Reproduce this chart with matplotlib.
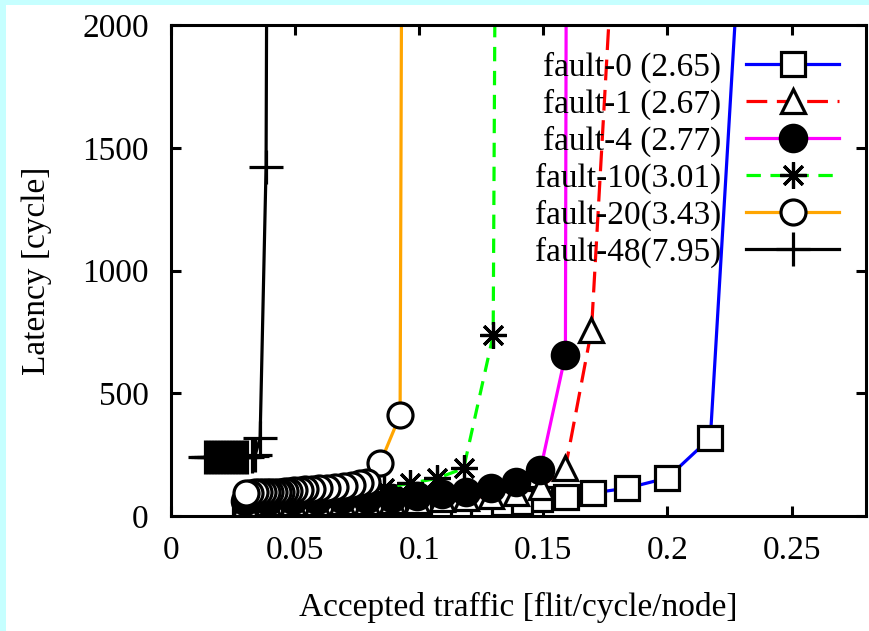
import matplotlib
matplotlib.use("Agg")
import matplotlib.pyplot as plt
from matplotlib.patches import Rectangle

# ---- data ----
labels = ["fault-0 (2.65)", "fault-1 (2.67)", "fault-4 (2.77)",
          "fault-10(3.01)", "fault-20(3.43)", "fault-48(7.95)"]

f0_x = [0.030, 0.040, 0.050, 0.060, 0.070, 0.080, 0.090, 0.100, 0.108, 0.116,
        0.1246, 0.1327, 0.1407, 0.1488, 0.1593, 0.1702, 0.1839, 0.2000, 0.2173, 0.2395]
f0_y = [34, 35, 35, 36, 37, 38, 39, 40, 42, 43,
        45, 53, 57, 69, 77, 94, 114, 155, 318, 4100]

f1_x = [0.030, 0.039, 0.049, 0.059, 0.069, 0.079, 0.089, 0.099, 0.109, 0.119,
        0.129, 0.139, 0.149, 0.1589, 0.1694, 0.186]
f1_y = [50, 51, 52, 53, 55, 57, 60, 63, 68, 74,
        82, 95, 120, 195, 757, 3730]

f4_x = [0.030, 0.039, 0.049, 0.059, 0.069, 0.079, 0.089, 0.099, 0.109, 0.119,
        0.129, 0.139, 0.1488, 0.1589, 0.1596]
f4_y = [61, 62, 64, 66, 68, 71, 75, 80, 88, 98,
        115, 140, 187, 656, 4000]

f10_x = [0.032, 0.043, 0.054, 0.064, 0.075, 0.0857, 0.0964, 0.1071, 0.1179, 0.1298, 0.1315]
f10_y = [78, 80, 84, 90, 100, 115, 133, 153, 194, 737, 4000]

f20_x = [0.0302, 0.0320, 0.0340, 0.0355, 0.0370, 0.0385, 0.0400, 0.0415, 0.0430,
         0.0445, 0.0460, 0.0475, 0.0496, 0.0520, 0.0540, 0.0569, 0.0597, 0.0629,
         0.0661, 0.0698, 0.0730, 0.0762, 0.0790, 0.0843, 0.0923, 0.0935]
f20_y = [95, 95, 96, 96, 97, 97, 98, 98, 99,
         99, 100, 101, 104, 106, 108, 110, 113, 116,
         120, 124, 128, 133, 139, 216, 411, 4000]

f48_x = [0.0137, 0.0149, 0.0161, 0.0173, 0.0185, 0.0197, 0.0210, 0.0222, 0.0234,
         0.0246, 0.0258, 0.0270, 0.0282, 0.0294, 0.0306, 0.0327, 0.0339, 0.0359,
         0.0383, 0.0392]
f48_y = [239, 239, 239, 239, 239, 239, 240, 240, 240,
         240, 240, 240, 241, 241, 241, 243, 248, 318,
         1422, 4000]

x_ticks = [0, 0.05, 0.1, 0.15, 0.2, 0.25]
x_tick_labels = ["0", "0.05", "0.1", "0.15", "0.2", "0.25"]
y_ticks = [0, 500, 1000, 1500, 2000]

# ---- style ----
plt.rcParams['font.family'] = ['Liberation Serif', 'DejaVu Serif']
FS = 24

fig = plt.figure(figsize=(8.69, 6.31), dpi=100, facecolor="white")
ax = fig.add_axes([171/869, 1-516/631, (866-171)/869, (516-25)/631])

# cyan border strips on left and top
fig.patches.append(Rectangle((0, 0), 6/869, 1, transform=fig.transFigure,
                             facecolor="#C6FFFF", edgecolor="none", zorder=-5))
fig.patches.append(Rectangle((0, 1-5/631), 1, 5/631, transform=fig.transFigure,
                             facecolor="#C6FFFF", edgecolor="none", zorder=-5))

series = [
    (f0_x, f0_y, "#0000FF", "-", None, "s", 17.5, "white"),
    (f1_x, f1_y, "#FF0000", "--", (6.5, 3), "^", 17, "white"),
    (f4_x, f4_y, "#FF00FF", "-", None, "o", 19, "black"),
    (f10_x, f10_y, "#00FF00", "--", (4.5, 3), (8, 2, 0), 19, "black"),
    (f20_x, f20_y, "#FFA500", "-", None, "o", 18, "white"),
    (f48_x, f48_y, "black", "-", None, "+", 24, "black"),
]

for (xs, ys, col, ls, dash, mk, ms, mfc), lab in zip(series, labels):
    kw = dict(color=col, linestyle=ls, linewidth=2.3, marker=mk, markersize=ms,
              markerfacecolor=mfc, markeredgecolor="black", markeredgewidth=2.3,
              label=lab)
    if dash is not None:
        kw["dashes"] = dash
    ax.plot(xs[::-1], ys[::-1], **kw)

ax.set_xlim(0, 0.28)
ax.set_ylim(0, 2000)
ax.set_xticks(x_ticks)
ax.set_xticklabels(x_tick_labels)
ax.set_yticks(y_ticks)

for s in ax.spines.values():
    s.set_linewidth(2.2)
ax.tick_params(direction="in", length=7, width=2.2, top=True, right=True,
               labelsize=FS)
ax.tick_params(axis="x", pad=14)
ax.tick_params(axis="y", pad=16)

ax.set_xlabel("Accepted traffic [flit/cycle/node]", fontsize=FS, labelpad=19)
ax.set_ylabel("Latency [cycle]", fontsize=FS, labelpad=22)

leg = ax.legend(loc="upper right", fontsize=FS, markerfirst=False, frameon=False,
                handlelength=2.8, handletextpad=0.75, labelspacing=0.17,
                borderaxespad=0.5, borderpad=0.3, markerscale=1.0)

fig.savefig("out.png", dpi=100, facecolor=fig.get_facecolor())
